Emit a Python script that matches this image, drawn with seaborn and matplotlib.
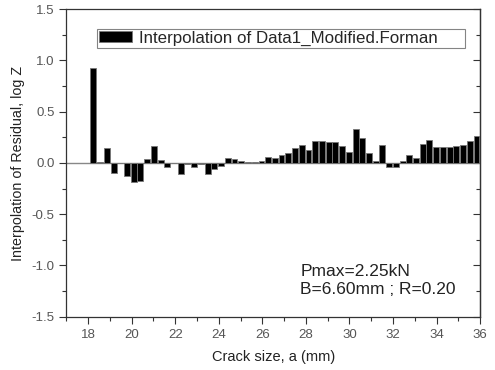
import matplotlib
matplotlib.use("Agg")
import matplotlib.pyplot as plt
import seaborn as sns
import pandas as pd
from matplotlib.ticker import MultipleLocator, FormatStrFormatter

crack_size = [18.24, 18.55, 18.86, 19.17, 19.47, 19.78, 20.09, 20.40, 20.71, 21.02,
              21.33, 21.63, 21.94, 22.25, 22.56, 22.87, 23.18, 23.49, 23.79, 24.10,
              24.41, 24.72, 25.03, 25.34, 25.65, 25.96, 26.26, 26.57, 26.88, 27.19,
              27.50, 27.81, 28.12, 28.42, 28.73, 29.04, 29.35, 29.66, 29.97, 30.28,
              30.58, 30.89, 31.20, 31.51, 31.82, 32.13, 32.44, 32.74, 33.05, 33.36,
              33.67, 33.98, 34.29, 34.60, 34.91, 35.21, 35.52, 35.83]
residual = [0.93, 0.005, 0.15, -0.10, -0.005, -0.13, -0.19, -0.18, 0.037, 0.167,
            0.03, -0.035, -0.005, -0.105, -0.01, -0.04, -0.01, -0.105, -0.06, -0.027,
            0.047, 0.035, 0.024, 0.005, 0.005, 0.017, 0.056, 0.045, 0.076, 0.095,
            0.148, 0.173, 0.13, 0.218, 0.218, 0.205, 0.2, 0.167, 0.109, 0.332,
            0.245, 0.102, 0.024, 0.173, -0.04, -0.04, 0.024, 0.082, 0.05, 0.19,
            0.225, 0.153, 0.16, 0.16, 0.167, 0.18, 0.218, 0.26]
series_name = "Interpolation of Data1_Modified.Forman"
x_label = "Crack size, a (mm)"
y_label = "Interpolation of Residual, log Z"
note_lines = ["Pmax=2.25kN", "B=6.60mm ; R=0.20"]

sns.set_theme(style="ticks")
plt.rcParams['font.family'] = ['Liberation Sans', 'DejaVu Sans']

df = pd.DataFrame({"a": crack_size, "r": residual})

fig = plt.figure(figsize=(4.95, 3.70), dpi=100)
ax = fig.add_axes([0.134, 0.144, 0.836, 0.831])

sns.barplot(data=df, x="a", y="r", native_scale=True, width=0.9,
            color="black", edgecolor="#777777", linewidth=0.6,
            ax=ax, label=series_name, saturation=1)

ax.axhline(0, color="#888888", lw=1.0, zorder=0.5)

ax.set_xlim(17, 36)
ax.set_ylim(-1.5, 1.5)
ax.xaxis.set_major_locator(MultipleLocator(2))
ax.xaxis.set_minor_locator(MultipleLocator(1))
ax.yaxis.set_major_locator(MultipleLocator(0.5))
ax.yaxis.set_minor_locator(MultipleLocator(0.25))
ax.yaxis.set_major_formatter(FormatStrFormatter('%.1f'))

ax.tick_params(which='both', direction='out', color='#333333', labelcolor='#555555',
               labelsize=9.5, right=False, top=False)
ax.tick_params(which='major', length=5, width=0.8)
ax.tick_params(which='minor', length=3, width=0.8)
for s in ax.spines.values():
    s.set_color('#333333')
    s.set_linewidth(0.9)
    s.set_visible(True)

sec = ax.secondary_yaxis('right')
sec.yaxis.set_major_locator(MultipleLocator(0.5))
sec.yaxis.set_minor_locator(MultipleLocator(0.25))
sec.tick_params(which='both', direction='in', color='#333333', labelright=False)
sec.tick_params(which='major', length=5, width=0.8)
sec.tick_params(which='minor', length=3, width=0.8)
sec.spines['right'].set_color('#333333')
sec.spines['right'].set_linewidth(0.9)

ax.set_xlabel(x_label, fontsize=10.5, color='#222222', labelpad=7)
ax.set_ylabel(y_label, fontsize=10.3, color='#222222', labelpad=5)

leg = ax.legend(loc='lower left', bbox_to_anchor=(0.075, 0.874, 0.889, 0.068),
                mode='expand', fontsize=12.2, frameon=True, fancybox=False,
                edgecolor='#666666', handlelength=1.95, handleheight=0.6,
                borderpad=0.12, handletextpad=0.4, borderaxespad=0)
leg.get_frame().set_linewidth(0.8)

ax.text(0.565, 0.147, note_lines[0], transform=ax.transAxes, fontsize=12.5,
        color='#222222', va='center', ha='left')
ax.text(0.565, 0.087, note_lines[1], transform=ax.transAxes, fontsize=12.5,
        color='#222222', va='center', ha='left')

fig.savefig("out.png", dpi=100)
